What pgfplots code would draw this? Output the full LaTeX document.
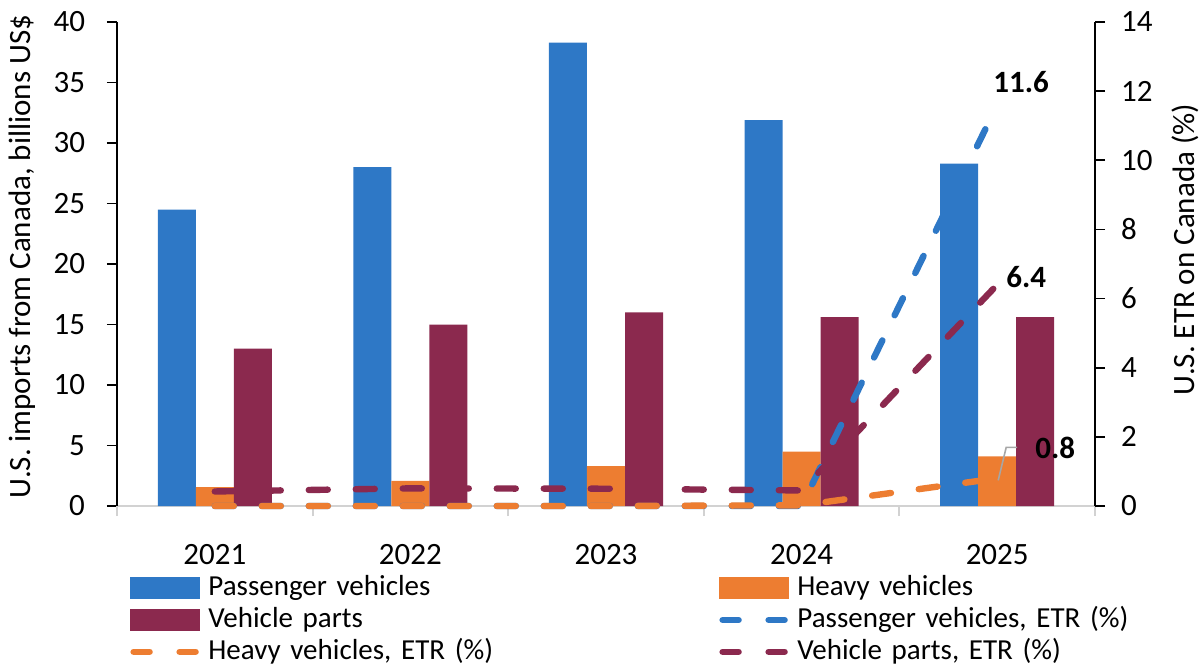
\documentclass[border=0pt]{standalone}
\usepackage{pgfplots}
\pgfplotsset{compat=1.18}
\usepackage{fontspec}
\setmainfont{Carlito}

\definecolor{pv}{RGB}{46,120,198}
\definecolor{hv}{RGB}{237,125,49}
\definecolor{vp}{RGB}{139,41,78}
\definecolor{axgray}{RGB}{210,210,210}

\pgfplotsset{
  barleg/.style={legend image code/.code={\fill[##1,draw=none] (0bp,-5.5bp) rectangle (35bp,5.5bp);}},
  lineleg/.style={legend image code/.code={\draw[##1,dash pattern=on 8bp off 15bp] (1.6bp,0bp) -- (33.4bp,0bp);}},
  etr/.style={line width=3.2bp, line cap=round, dash pattern=on 9.5bp off 14bp},
  common/.style={
    at={(0,0)}, anchor=south west,
    scale only axis, width=489bp, height=242bp,
    xmin=-0.5, xmax=4.5,
    tick align=outside, major tick length=5bp,
    /pgf/number format/assume math mode=true,
  },
}

\begin{document}
\begin{tikzpicture}[font=\fontsize{15.5bp}{18bp}\selectfont]
\useasboundingbox (-58.5bp,-79.5bp) rectangle (542bp,253bp);

% bars, left axis
\begin{axis}[
  common,
  ymin=0, ymax=40,
  ybar=0pt, bar width=19bp,
  axis x line*=bottom, axis y line*=left,
  x axis line style={axgray, line width=1bp},
  y axis line style={black, line width=0.8bp},
  xtick={0,1,2,3,4}, xticklabels={2021,2022,2023,2024,2025},
  xtick style={draw=none},
  extra x ticks={-0.5,0.5,1.5,2.5,3.5,4.5},
  extra x tick labels={},
  extra x tick style={xtick style={draw=axgray, line width=1bp}},
  xticklabel style={yshift=-10.5bp},
  ytick={0,5,...,40},
  ytick style={black, line width=0.8bp},
  yticklabel style={xshift=-7.5bp},
  ylabel={U.S. imports from Canada, billions US\$},
  ylabel style={at={(axis description cs:-0.0971,0.5155)}, anchor=center},
  legend columns=2,
  legend cell align=left,
  legend style={at={(0.0133,-0.135)}, anchor=north west, draw=none, fill=none,
    inner sep=0pt, row sep=-0.6bp, font=\fontsize{14.5bp}{17bp}\selectfont,
    nodes={inner sep=1bp, text height=11bp, text depth=3.5bp, text width=254.5bp},
    /tikz/every odd column/.append style={column sep=3bp}},
]
\addplot[fill=pv, draw=none, barleg] coordinates {(0,24.5) (1,28.0) (2,38.3) (3,31.9) (4,28.3)};
\addlegendentry{Passenger vehicles}
\addplot[fill=hv, draw=none, barleg] coordinates {(0,1.55) (1,2.07) (2,3.3) (3,4.5) (4,4.1)};
\addlegendentry{Heavy vehicles}
\addplot[fill=vp, draw=none, barleg] coordinates {(0,13.0) (1,15.0) (2,16.0) (3,15.6) (4,15.6)};
\addlegendentry{Vehicle parts}
\addlegendimage{etr, pv, lineleg}
\addlegendentry{Passenger vehicles, ETR (\%)}
\addlegendimage{etr, hv, lineleg}
\addlegendentry{Heavy vehicles, ETR (\%)}
\addlegendimage{etr, vp, lineleg}
\addlegendentry{Vehicle parts, ETR (\%)}
\end{axis}

% effective tariff rates, right axis
\begin{axis}[
  common,
  ymin=0, ymax=14,
  clip=false,
  axis x line=none, axis y line*=right,
  y axis line style={black, line width=0.8bp},
  ytick={0,2,...,14},
  ytick style={black, line width=0.8bp},
  yticklabel style={anchor=west, xshift=4.5bp},
  ylabel={U.S. ETR on Canada (\%)},
  ylabel style={at={(axis description cs:1.092,0.53)}, anchor=center},
]
\addplot[etr, pv] coordinates {(0,0) (1,0) (2,0) (3,0) (4,11.6)};
\addplot[etr, hv] coordinates {(0,0) (1,0) (2,0) (3,0.02) (4,0.8)};
\addplot[etr, vp] coordinates {(0,0.42) (1,0.51) (2,0.5) (3,0.45) (4,6.4)};
\node[font=\fontsize{15.5bp}{18bp}\selectfont\bfseries, xshift=12bp, yshift=11.5bp] at (axis cs:4,11.6) {11.6};
\node[font=\fontsize{15.5bp}{18bp}\selectfont\bfseries, xshift=14.5bp, yshift=4bp] at (axis cs:4,6.4) {6.4};
\node[font=\fontsize{15.5bp}{18bp}\selectfont\bfseries, xshift=29bp, yshift=15bp] at (axis cs:4,0.8) {0.8};
\draw[gray!70, line width=0.8bp] ([shift={(0.5bp,-1bp)}]axis cs:4,0.8) -- ([shift={(4.5bp,15.5bp)}]axis cs:4,0.8) -- ([shift={(10bp,15.5bp)}]axis cs:4,0.8);
\end{axis}
\end{tikzpicture}
\end{document}
